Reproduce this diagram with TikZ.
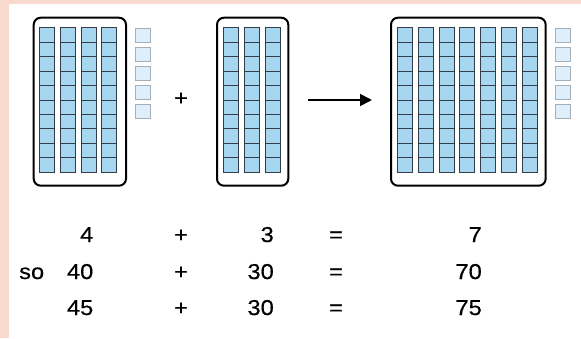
\documentclass[tikz,border=0pt]{standalone}
\usepackage{fontspec}
\setmainfont[FakeStretch=1.1,FakeBold=0.5]{Liberation Sans}
\usetikzlibrary{arrows.meta}
\definecolor{pinkbg}{RGB}{248,217,206}
\definecolor{cellfill}{RGB}{166,214,240}
\definecolor{celldraw}{RGB}{50,62,74}
\definecolor{unitfill}{RGB}{222,238,250}
\definecolor{unitdraw}{RGB}{165,175,186}
\begin{document}
\begin{tikzpicture}[x=1pt,y=-1pt,
  cellbox/.style={draw=celldraw,fill=cellfill,line width=1pt,inner sep=0pt,minimum width=15pt,minimum height=14.46pt},
  unitbox/.style={draw=unitdraw,fill=unitfill,line width=1pt,inner sep=0pt,minimum width=15pt,minimum height=14.7pt},
  bigbox/.style={draw=black,line width=2pt,rounded corners=7pt,inner sep=0pt,anchor=north west,minimum height=168pt},
  txt/.style={font=\fontsize{21.5}{25}\selectfont,inner sep=0pt}]
\useasboundingbox (0,0) rectangle (581,338);
\fill[pinkbg] (0,0) rectangle (581,338);
\fill[white] (8.5,3.5) rectangle (581,338);
% boxes
\node[bigbox,minimum width=92.3pt] (box1) at (32.7,16.7) {};
\node[bigbox,minimum width=71.3pt] (box2) at (216,16.7) {};
\node[bigbox,minimum width=154.7pt] (box3) at (390,16.7) {};
% ten-columns
\foreach \c in {0,...,3}{\foreach \r in {0,...,9}{
  \node[cellbox] (a\c r\r) at (39.5+20.8*\c+7.5, 27.7+14.46*\r+7.23) {};}}
\foreach \c in {0,...,2}{\foreach \r in {0,...,9}{
  \node[cellbox] (b\c r\r) at (223.5+20.8*\c+7.5, 27.7+14.46*\r+7.23) {};}}
\foreach \c in {0,...,6}{\foreach \r in {0,...,9}{
  \node[cellbox] (d\c r\r) at (397.5+20.8*\c+7.5, 27.7+14.46*\r+7.23) {};}}
% loose units
\foreach \r in {0,...,4}{
  \node[unitbox] (ua\r) at (142.9, 28+19*\r+7.35) {};
  \node[unitbox] (ud\r) at (563.2, 28+19*\r+7.35) {};}
% plus and arrow
\node[txt] (plustop) at (181,99) {+};
\coordinate (arrS) at (308,100);
\coordinate (arrE) at (372,100);
\draw[line width=1.6pt,-{Triangle[length=12pt,width=12pt]}] (arrS) -- (arrE);
% equations
\node[txt,anchor=base east] (r1a) at (93.5,242) {4};
\node[txt,anchor=base] (r1p) at (181,242) {+};
\node[txt,anchor=base east] (r1b) at (274,242) {3};
\node[txt,anchor=base] (r1e) at (336,242) {=};
\node[txt,anchor=base east] (r1c) at (482,242) {7};
\node[txt,anchor=base west] (so) at (19,279) {so};
\node[txt,anchor=base east] (r2a) at (93.5,279) {40};
\node[txt,anchor=base] (r2p) at (181,279) {+};
\node[txt,anchor=base east] (r2b) at (274,279) {30};
\node[txt,anchor=base] (r2e) at (336,279) {=};
\node[txt,anchor=base east] (r2c) at (482,279) {70};
\node[txt,anchor=base east] (r3a) at (93.5,315) {45};
\node[txt,anchor=base] (r3p) at (181,315) {+};
\node[txt,anchor=base east] (r3b) at (274,315) {30};
\node[txt,anchor=base] (r3e) at (336,315) {=};
\node[txt,anchor=base east] (r3c) at (482,315) {75};
\end{tikzpicture}
\end{document}
